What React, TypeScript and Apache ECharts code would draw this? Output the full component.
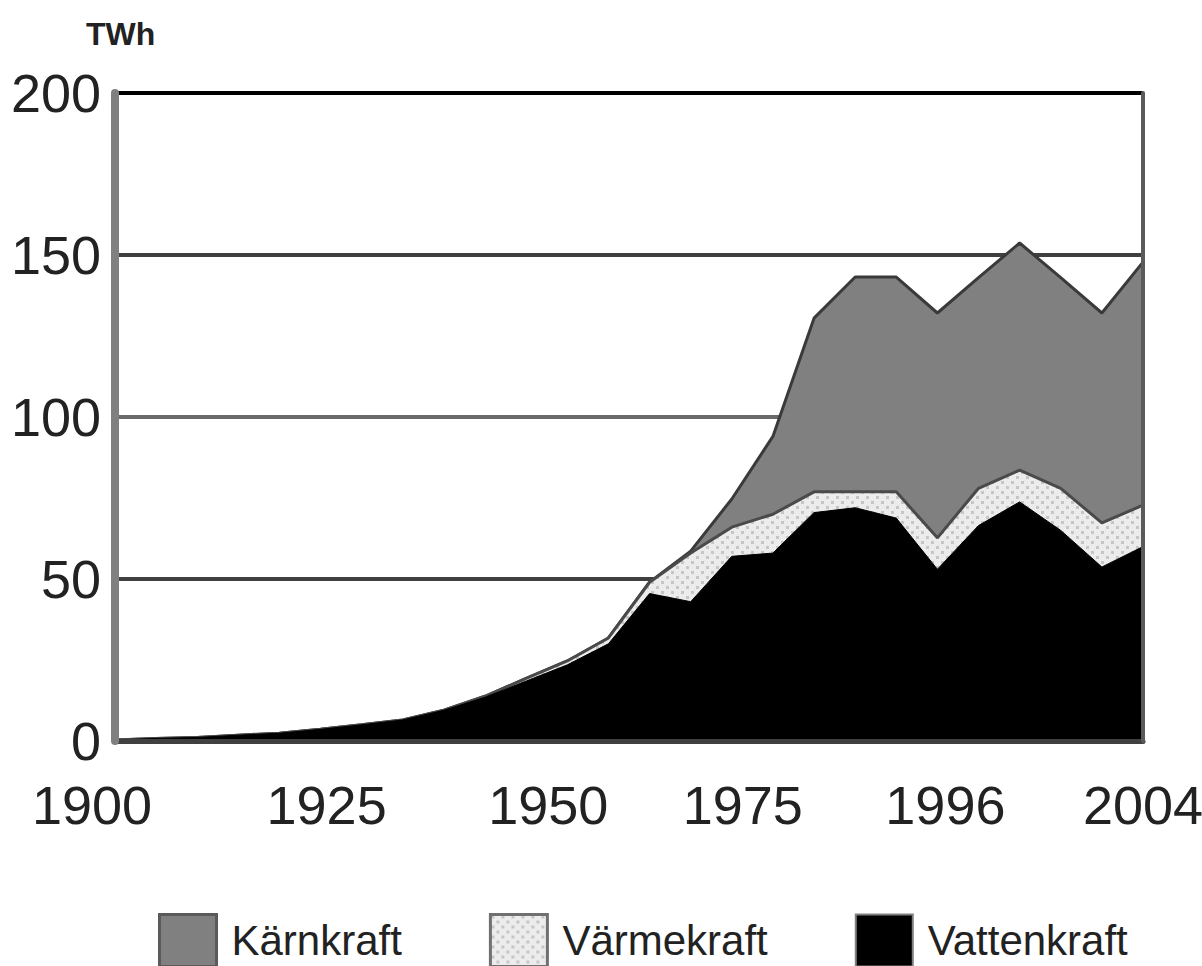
import React, { useEffect, useRef } from 'react';
import * as echarts from 'echarts';

const categories = ['1900', '1905', '1910', '1915', '1920', '1925', '1930', '1935', '1940', '1945', '1950', '1955', '1960', '1965', '1970', '1975', '1980', '1984', '1988', '1992', '1996', '1998', '2000', '2001', '2002', '2004'];
const tickLabels = ['1900', '1925', '1950', '1975', '1996', '2004'];
const vattenkraft = [0.3, 0.8, 1.1, 1.8, 2.4, 3.6, 5, 6.5, 9.5, 13.5, 18.5, 23.5, 30, 45.5, 43, 57, 58, 70.5, 72, 68.8, 53, 66.5, 73.8, 65, 53.7, 60];
const varmekraft = [0, 0, 0, 0, 0, 0, 0, 0, 0, 0.3, 0.8, 1.2, 1.8, 3.5, 15, 9, 12, 6.4, 4.9, 8.1, 9.7, 11.5, 9.8, 13, 13.6, 12.8];
const karnkraft = [0, 0, 0, 0, 0, 0, 0, 0, 0, 0, 0, 0, 0, 0, 0.6, 8.7, 24, 53.6, 66.3, 66.3, 69.4, 65, 70.1, 65, 64.8, 75];

const FONT = '"Liberation Sans", Arial, sans-serif';
const labelShift: Record<string, number> = { '1900': -23, '1925': 6, '1950': 22, '1975': 11, '1996': 8, '2004': 0 };

export default function App() {
  const ref = useRef<HTMLDivElement>(null);
  useEffect(() => {
    const chart = echarts.init(ref.current!, null, { renderer: 'svg' });
    const cv = document.createElement('canvas');
    cv.width = 10;
    cv.height = 10;
    const g = cv.getContext('2d')!;
    g.fillStyle = '#ececec';
    g.fillRect(0, 0, 10, 10);
    g.fillStyle = '#c6c6c6';
    g.fillRect(1, 1, 3, 3);
    g.fillRect(6, 6, 3, 3);
    const dots: any = { image: cv, repeat: 'repeat' };

    const rich: Record<string, any> = {};
    tickLabels.forEach((t, i) => {
      const s = labelShift[t];
      rich['l' + i] = {
        fontFamily: FONT,
        fontSize: 54,
        color: '#222',
        padding: s < 0 ? [0, -2 * s, 0, 0] : [0, 0, 0, 2 * s],
      };
    });

    chart.setOption({
      animation: false,
      backgroundColor: '#fff',
      grid: { left: 115, right: 59, top: 93, bottom: 225, show: false, containLabel: false, outerBoundsMode: 'none' },
      graphic: [
        {
          type: 'text',
          left: 86,
          top: 18,
          style: { text: 'TWh', font: `bold 32px ${FONT}`, fill: '#222' },
        },
      ],
      legend: {
        left: 153,
        top: 908,
        itemWidth: 57,
        itemHeight: 52,
        itemGap: 87,
        icon: 'rect',
        textStyle: { fontFamily: FONT, fontSize: 42, color: '#222', padding: [0, 0, 0, 10] },
        data: [
          { name: 'Kärnkraft', itemStyle: { color: '#808080', borderColor: '#5a5a5a', borderWidth: 3 } },
          { name: 'Värmekraft', itemStyle: { color: dots, borderColor: '#707070', borderWidth: 3 } },
          { name: 'Vattenkraft', itemStyle: { color: '#000', borderColor: '#808080', borderWidth: 2 } },
        ],
      },
      xAxis: {
        type: 'category',
        data: categories,
        boundaryGap: false,
        z: 5,
        axisLine: { show: true, lineStyle: { color: '#404040', width: 5 } },
        axisTick: { show: false },
        axisLabel: {
          interval: (i: number, v: string) => tickLabels.includes(v),
          margin: 37,
          formatter: (v: string) => `{l${tickLabels.indexOf(v)}|${v}}`,
          rich,
          fontFamily: FONT,
          fontSize: 54,
          color: '#222',
        },
        splitLine: { show: false },
      },
      yAxis: [
        {
          type: 'value',
          min: 0,
          max: 200,
          interval: 50,
          axisLine: { show: false },
          axisTick: { show: false },
          axisLabel: { fontFamily: FONT, fontSize: 54, color: '#222', margin: 14 },
          splitLine: {
            show: true,
            lineStyle: { color: ['#404040', '#404040', '#6a6a6a', '#404040', '#000'], width: 4 },
          },
        },
        {
          type: 'value',
          position: 'left',
          min: 0,
          max: 200,
          interval: 50,
          z: 6,
          axisLine: { show: true, onZero: false, lineStyle: { color: '#808080', width: 8 } },
          axisTick: { show: false },
          axisLabel: { show: false },
          splitLine: { show: false },
        },
        {
          type: 'value',
          position: 'right',
          min: 0,
          max: 200,
          interval: 50,
          z: 6,
          axisLine: { show: true, onZero: false, lineStyle: { color: '#5a5a5a', width: 4 } },
          axisTick: { show: false },
          axisLabel: { show: false },
          splitLine: { show: false },
        },
      ],
      series: [
        {
          name: 'Vattenkraft',
          type: 'line',
          stack: 'total',
          data: vattenkraft,
          symbol: 'none',
          itemStyle: { color: '#000' },
          lineStyle: { color: '#000', width: 1 },
          areaStyle: { color: '#000', opacity: 1 },
          z: 4,
        },
        {
          name: 'Värmekraft',
          type: 'line',
          stack: 'total',
          data: varmekraft,
          symbol: 'none',
          itemStyle: { color: '#ececec' },
          lineStyle: { color: '#4a4a4a', width: 3 },
          areaStyle: { color: dots, opacity: 1 },
          z: 3,
        },
        {
          name: 'Kärnkraft',
          type: 'line',
          stack: 'total',
          data: karnkraft,
          symbol: 'none',
          itemStyle: { color: '#808080' },
          lineStyle: { color: '#3a3a3a', width: 3 },
          areaStyle: { color: '#808080', opacity: 1 },
          z: 2,
        },
      ],
    });
    return () => chart.dispose();
  }, []);
  return <div ref={ref} style={{ position: 'fixed', left: 0, top: 0, width: 1202, height: 966 }} />;
}
